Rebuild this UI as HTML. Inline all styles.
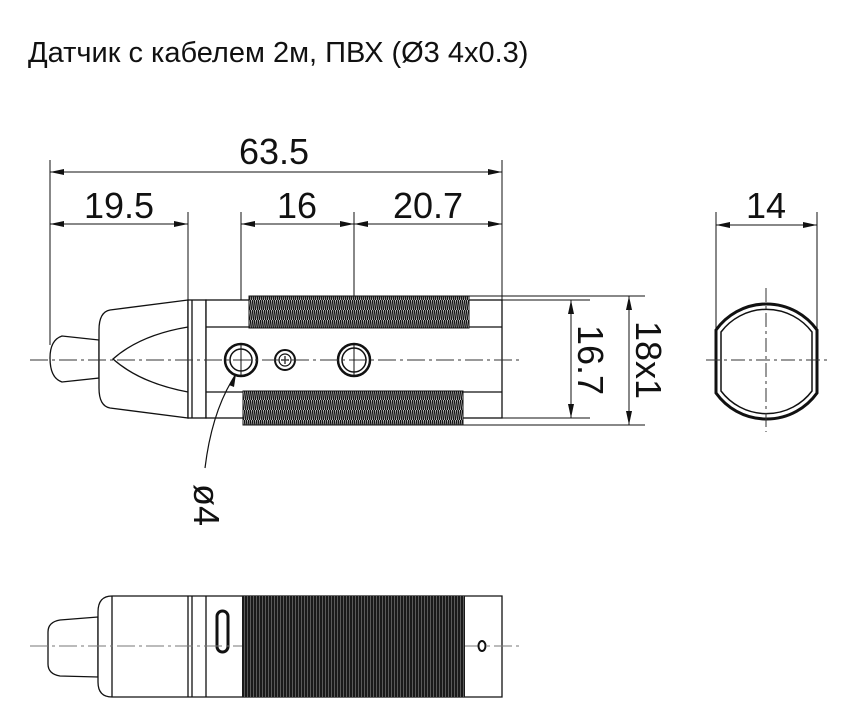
<!DOCTYPE html>
<html><head><meta charset="utf-8"><style>
html,body{margin:0;padding:0;background:#fff;}
svg{display:block}
text{font-family:"Liberation Sans",sans-serif;fill:#111}
</style></head><body>
<svg width="858" height="717" viewBox="0 0 858 717" xmlns="http://www.w3.org/2000/svg">
<defs>
<marker id="a" markerWidth="14" markerHeight="8" refX="14" refY="4" orient="auto-start-reverse" markerUnits="userSpaceOnUse"><path d="M0,1 L14,4 L0,7 Z" fill="#111"/></marker>
<pattern id="thr" width="4" height="10" patternUnits="userSpaceOnUse"><rect width="4" height="10" fill="#fff"/><path d="M0.5,0 L1.5,10 M2.5,0 L3.5,10" stroke="#111" stroke-width="1.5"/></pattern>
<pattern id="thr2" width="3" height="10" patternUnits="userSpaceOnUse"><rect width="3" height="10" fill="#1a1a1a"/><path d="M1.5,0 L1.5,10" stroke="#999" stroke-width="0.5"/></pattern>
</defs>
<text x="28" y="62" font-size="29">Датчик с кабелем 2м, ПВХ (Ø3 4x0.3)</text>

<g stroke="#111" stroke-width="1" fill="none">
<line x1="50" y1="160" x2="50" y2="345"/>
<line x1="502" y1="160" x2="502" y2="300"/>
<line x1="188" y1="212" x2="188" y2="300"/>
<line x1="241" y1="212" x2="241" y2="345"/>
<line x1="354" y1="212" x2="354" y2="345"/>
<line x1="50" y1="172" x2="502" y2="172" marker-start="url(#a)" marker-end="url(#a)"/>
<line x1="50" y1="224" x2="188" y2="224" marker-start="url(#a)" marker-end="url(#a)"/>
<line x1="241" y1="224" x2="354" y2="224" marker-start="url(#a)" marker-end="url(#a)"/>
<line x1="354" y1="224" x2="502" y2="224" marker-start="url(#a)" marker-end="url(#a)"/>
</g>
<text x="274" y="164" font-size="36" text-anchor="middle">63.5</text>
<text x="119" y="218" font-size="36" text-anchor="middle">19.5</text>
<text x="297" y="218" font-size="36" text-anchor="middle">16</text>
<text x="428" y="218" font-size="36" text-anchor="middle">20.7</text>

<g stroke="#111" stroke-width="1.3" fill="#fff">
<path d="M99,340 L62,336 Q50,340 50,358 Q50,378 62,382 L99,378 Z"/>
<path d="M188,300 L110,310 Q99,312 99,330 L99,388 Q99,406 110,408 L188,418 Z"/>
<rect x="188" y="300" width="18" height="118"/>
<rect x="206" y="300" width="296" height="118"/>
<line x1="206" y1="327" x2="502" y2="327"/>
<line x1="206" y1="392" x2="502" y2="392"/>
<line x1="192" y1="300" x2="192" y2="418"/>
<path d="M188,327 Q140,335 113,359 Q140,383 188,392" fill="none"/>
</g>
<rect x="249" y="296" width="220" height="32" fill="url(#thr)" stroke="#111" stroke-width="1"/>
<rect x="243" y="391" width="220" height="34" fill="url(#thr)" stroke="#111" stroke-width="1"/>
<g stroke="#111" fill="#fff">
<circle cx="241" cy="360" r="16" stroke-width="2.5"/>
<circle cx="241" cy="360" r="11" stroke-width="1.5"/>
<circle cx="354" cy="360" r="16" stroke-width="2.5"/>
<circle cx="354" cy="360" r="12" stroke-width="1.5"/>
<circle cx="285" cy="360" r="10" stroke-width="2"/>
<circle cx="285" cy="360" r="6" stroke-width="1.2"/>
<path d="M281,360 H289 M285,356 V364" stroke-width="1.2"/>
</g>
<line x1="30" y1="360" x2="520" y2="360" stroke="#333" stroke-width="1" stroke-dasharray="18,4,3,4"/>
<line x1="241" y1="345" x2="241" y2="375" stroke="#111"/>
<line x1="354" y1="345" x2="354" y2="375" stroke="#111"/>
<path d="M236,374 Q212,410 205,468" stroke="#111" fill="none" stroke-width="1.2"/>
<path d="M236,374 L229,385 L234,387 Z" fill="#111"/>
<text transform="translate(194,505) rotate(90)" font-size="36" text-anchor="middle">ø4</text>

<g stroke="#111" stroke-width="1" fill="none">
<line x1="502" y1="300" x2="590" y2="300"/>
<line x1="502" y1="418" x2="590" y2="418"/>
<line x1="469" y1="296" x2="645" y2="296"/>
<line x1="463" y1="425" x2="645" y2="425"/>
<line x1="571" y1="300" x2="571" y2="418" marker-start="url(#a)" marker-end="url(#a)"/>
<line x1="629" y1="296" x2="629" y2="425" marker-start="url(#a)" marker-end="url(#a)"/>
</g>
<text transform="translate(578,360) rotate(90)" font-size="36" text-anchor="middle">16.7</text>
<text transform="translate(636,360) rotate(90)" font-size="36" text-anchor="middle">18x1</text>

<g stroke="#111" stroke-width="1" fill="none">
<line x1="716" y1="212" x2="716" y2="330"/>
<line x1="817" y1="212" x2="817" y2="330"/>
<line x1="716" y1="225" x2="817" y2="225" marker-start="url(#a)" marker-end="url(#a)"/>
</g>
<text x="766" y="218" font-size="36" text-anchor="middle">14</text>
<path d="M716,330 A62,62 0 0 1 817,330 L817,393 A62,62 0 0 1 716,393 Z" fill="none" stroke="#111" stroke-width="3"/>
<path d="M721,332 A57,57 0 0 1 812,332 L812,391 A57,57 0 0 1 721,391 Z" fill="none" stroke="#111" stroke-width="1.5"/>
<line x1="706" y1="360" x2="827" y2="360" stroke="#333" stroke-dasharray="14,4,3,4"/>
<line x1="766" y1="288" x2="766" y2="432" stroke="#333" stroke-dasharray="14,4,3,4"/>

<g stroke="#111" stroke-width="1.3" fill="#fff">
<path d="M98,617 L60,620 Q48,622 48,632 L48,664 Q48,674 60,676 L98,677 Z"/>
<path d="M112,596 L502,596 L502,697 L112,697 Q98,697 98,682 L98,612 Q98,596 112,596 Z"/>
<line x1="112" y1="596" x2="112" y2="697"/>
<line x1="188" y1="596" x2="188" y2="697"/>
<line x1="192" y1="596" x2="192" y2="697"/>
<line x1="206" y1="596" x2="206" y2="697"/>
</g>
<rect x="242" y="596" width="223" height="101" fill="url(#thr2)"/>
<rect x="217" y="611" width="11" height="41" rx="5.5" fill="none" stroke="#111" stroke-width="3"/>
<line x1="30" y1="646" x2="242" y2="646" stroke="#777" stroke-dasharray="18,4,3,4"/>
<line x1="465" y1="646" x2="520" y2="646" stroke="#777" stroke-dasharray="18,4,3,4"/>
<ellipse cx="482" cy="646" rx="3.5" ry="5" fill="#fff" stroke="#111" stroke-width="2"/>
</svg>
</body></html>
